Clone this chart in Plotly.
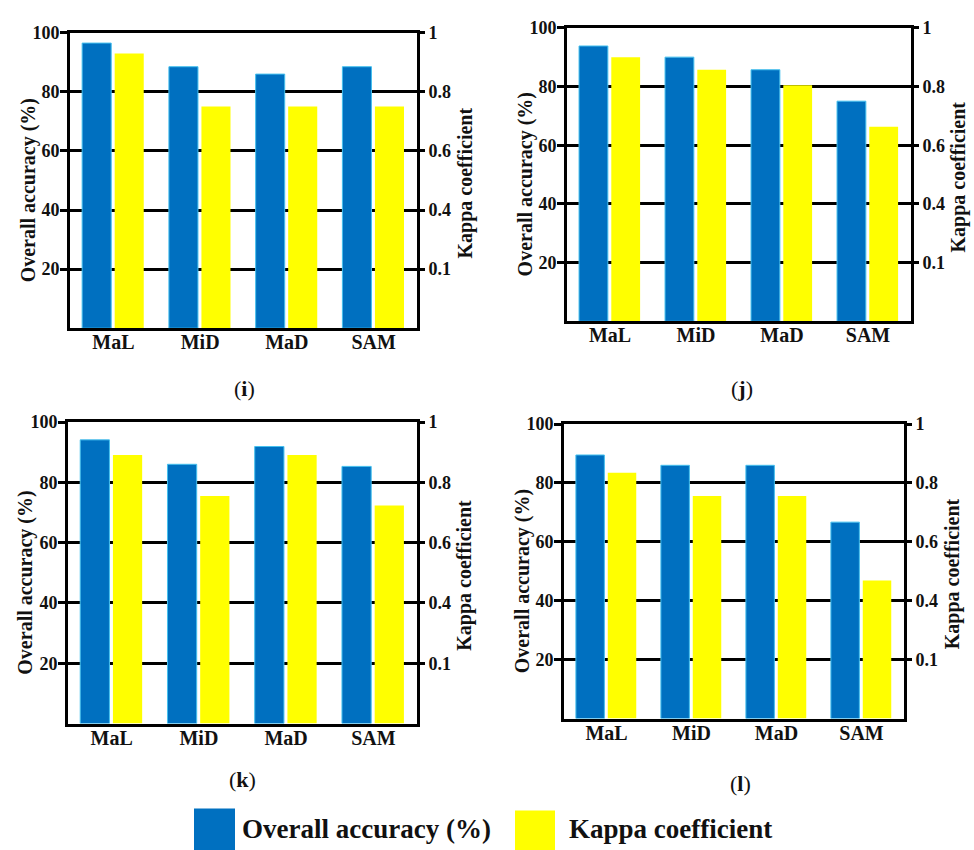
import plotly.graph_objects as go

categories = ["MaL", "MiD", "MaD", "SAM"]

oa_i = [96.5, 88.5, 86.0, 88.5]
kappa_i = [0.93, 0.75, 0.75, 0.75]
oa_j = [93.8, 90.0, 85.7, 75.0]
kappa_j = [0.90, 0.857, 0.804, 0.663]
oa_k = [94.1, 86.0, 91.9, 85.3]
kappa_k = [0.891, 0.755, 0.891, 0.723]
oa_l = [89.5, 86.0, 86.0, 66.7]
kappa_l = [0.835, 0.756, 0.756, 0.469]

panel_labels = ["i", "j", "k", "l"]
left_ticks = [20, 40, 60, 80, 100]
right_tickvals = [0.2, 0.4, 0.6, 0.8, 1.0]
right_ticktext = ["0.1", "0.4", "0.6", "0.8", "1"]
left_title = "Overall accuracy (%)"
right_title = "Kappa coefficient"

W, H = 974, 850
# plot area pixel boxes: (left, right, top, bottom)
boxes = [(70, 417, 23, 322), (567, 911, 18, 315), (68, 417, 417, 722), (564, 904, 419, 717)]
label_pos = [(244, 383), (742, 383), (242, 779), (740, 783)]

BLUE = "#0070C0"
YELLOW = "#FFFF00"
FONT = "Liberation Serif"
INK = "#111"

panels = [(oa_i, kappa_i), (oa_j, kappa_j), (oa_k, kappa_k), (oa_l, kappa_l)]

fig = go.Figure()
layout = {}
annotations = []
for n, (oa, kp) in enumerate(panels, start=1):
    xa = "x" if n == 1 else f"x{n}"
    yp = "y" if n == 1 else f"y{2*n-1}"
    ys = f"y{2*n}"
    fig.add_trace(go.Bar(x=categories, y=oa, xaxis=xa, yaxis=yp, width=0.335, offset=-0.36,
                         marker=dict(color=BLUE, line=dict(color="#45c0ee", width=1)),
                         name="Overall accuracy (%)", showlegend=False))
    fig.add_trace(go.Bar(x=categories, y=kp, xaxis=xa, yaxis=ys, width=0.335, offset=0.015,
                         marker=dict(color=YELLOW, line=dict(width=0)),
                         name="Kappa coefficient", showlegend=False))
    l, r, t, b = boxes[n-1]
    xdom = [l / W, r / W]
    ydom = [1 - b / H, 1 - t / H]
    xkey = "xaxis" if n == 1 else f"xaxis{n}"
    ypkey = "yaxis" if n == 1 else f"yaxis{2*n-1}"
    yskey = f"yaxis{2*n}"
    layout[xkey] = dict(domain=xdom, anchor=yp, range=[-0.5, 3.5], type="category",
                        showline=True, linecolor="black", linewidth=3, mirror=True,
                        ticks="", showgrid=False, ticklabelstandoff=-6,
                        tickfont=dict(family=FONT, size=20, color=INK, weight="bold"))
    layout[ypkey] = dict(domain=ydom, anchor=xa, range=[0, 100], tickvals=left_ticks,
                         ticks="outside", ticklen=7, tickwidth=2.5, tickcolor="black",
                         showgrid=True, gridcolor="black", gridwidth=2.5, zeroline=False,
                         showline=True, linecolor="black", linewidth=3, mirror=True,
                         ticklabelstandoff=-3,
                         tickfont=dict(family=FONT, size=18, color=INK, weight="bold"))
    layout[yskey] = dict(overlaying=yp, anchor=xa, side="right", range=[0, 1],
                         tickvals=right_tickvals, ticktext=right_ticktext,
                         ticks="outside", ticklen=7, tickwidth=2.5, tickcolor="black",
                         showgrid=False, zeroline=False, showline=False,
                         tickfont=dict(family=FONT, size=18, color=INK, weight="bold"))
    cy = (t + b) / 2
    annotations.append(dict(x=(l - 42) / W, y=1 - (cy + 10) / H, xref="paper", yref="paper",
                            text=f"<b>{left_title}</b>", textangle=-90, showarrow=False,
                            font=dict(family=FONT, size=20, color=INK),
                            xanchor="center", yanchor="middle"))
    annotations.append(dict(x=(r + 48) / W, y=1 - (cy + 3) / H, xref="paper", yref="paper",
                            text=f"<b>{right_title}</b>", textangle=-90, showarrow=False,
                            font=dict(family=FONT, size=20, color=INK),
                            xanchor="center", yanchor="middle"))

for (px, py), lab in zip(label_pos, panel_labels):
    annotations.append(dict(x=px / W, y=1 - py / H, xref="paper", yref="paper",
                            text=f"(<b>{lab}</b>)", showarrow=False,
                            font=dict(family=FONT, size=22, color=INK),
                            xanchor="center", yanchor="middle"))
annotations.append(dict(x=240 / W, y=1 - 829 / H, xref="paper", yref="paper",
                        text="<b>Overall accuracy (%)</b>", showarrow=False,
                        font=dict(family=FONT, size=27, color=INK),
                        xanchor="left", yanchor="middle"))
annotations.append(dict(x=567 / W, y=1 - 829 / H, xref="paper", yref="paper",
                        text="<b>Kappa coefficient</b>", showarrow=False,
                        font=dict(family=FONT, size=27, color=INK),
                        xanchor="left", yanchor="middle"))

shapes = [
    dict(type="rect", xref="paper", yref="paper", x0=194 / W, x1=235 / W,
         y0=1 - 850 / H, y1=1 - 808 / H, fillcolor=BLUE, line=dict(width=0)),
    dict(type="rect", xref="paper", yref="paper", x0=515 / W, x1=555 / W,
         y0=1 - 850 / H, y1=1 - 810 / H, fillcolor=YELLOW, line=dict(width=0)),
]

fig.update_layout(**layout)
fig.update_layout(width=W, height=H, margin=dict(l=0, r=0, t=0, b=0),
                  paper_bgcolor="white", plot_bgcolor="white",
                  barmode="overlay", showlegend=False,
                  annotations=annotations, shapes=shapes,
                  font=dict(family=FONT, color=INK))

fig.write_html("out.html", config={"displayModeBar": False},
               post_script="document.body.style.margin='0';document.body.style.overflow='hidden';")
